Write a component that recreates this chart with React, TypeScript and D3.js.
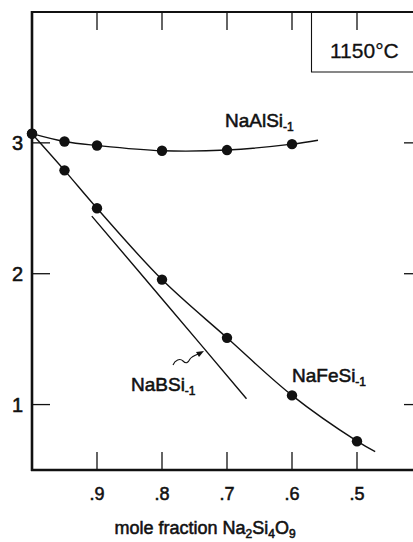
import React from 'react';
import * as d3 from 'd3';

// values (x = mole fraction Na2Si4O9)
const alX = [1.0, 0.95, 0.9, 0.8, 0.7, 0.6];
const alY = [3.07, 3.01, 2.98, 2.94, 2.945, 2.99];
const alCurveX = [1.0, 0.95, 0.9, 0.8, 0.7, 0.6, 0.56];
const alCurveY = [3.07, 3.01, 2.98, 2.94, 2.945, 2.99, 3.02];

const feX = [1.0, 0.95, 0.9, 0.8, 0.7, 0.6, 0.5];
const feY = [3.07, 2.79, 2.5, 1.955, 1.51, 1.07, 0.72];
const feCurveX = [1.0, 0.95, 0.9, 0.8, 0.7, 0.6, 0.5, 0.472];
const feCurveY = [3.07, 2.79, 2.5, 1.955, 1.51, 1.07, 0.72, 0.64];

const bCurveX = [0.908, 0.79, 0.67];
const bCurveY = [2.44, 1.75, 1.045];

const xTicks = [0.9, 0.8, 0.7, 0.6, 0.5];
const xTickLabels = ['.9', '.8', '.7', '.6', '.5'];
const yTicks = [1, 2, 3];

const W = 413;
const H = 542;
const font = '"Liberation Sans", Arial, Helvetica, sans-serif';

export default function App() {
  const x = d3.scaleLinear().domain([1.0, 0.4]).range([32, 422]);
  const y = d3.scaleLinear().domain([0.5, 4.0]).range([470, 12]);
  const [x0, x1] = x.range();
  const [yb, yt] = y.range();

  const line = d3
    .line<[number, number]>()
    .x((d) => x(d[0]))
    .y((d) => y(d[1]))
    .curve(d3.curveCatmullRom.alpha(0.5));

  const zip = (a: number[], b: number[]) => a.map((v, i) => [v, b[i]] as [number, number]);

  const tickLen = 18;
  const txt = { fontFamily: font, fill: '#111', stroke: '#111', strokeWidth: 0.55 };

  return (
    <svg width={W} height={H} style={{ position: 'absolute', left: 0, top: 0, background: '#fff' }}>
      {/* frame (right side lies beyond the picture edge) */}
      <line x1={x0} x2={x0} y1={yt - 1} y2={yb + 1} stroke="#111" strokeWidth={2.6} />
      <line x1={x0 - 1} x2={x1} y1={yb} y2={yb} stroke="#111" strokeWidth={2.6} />
      <line x1={x0 - 1} x2={x1} y1={yt} y2={yt} stroke="#111" strokeWidth={2} />

      {/* ticks */}
      {xTicks.map((t) => (
        <g key={'xt' + t}>
          <line x1={x(t)} x2={x(t)} y1={yb} y2={yb - tickLen} stroke="#111" strokeWidth={1.3} />
          <line x1={x(t)} x2={x(t)} y1={yt} y2={yt + tickLen} stroke="#111" strokeWidth={1.3} />
        </g>
      ))}
      {yTicks.map((t) => (
        <g key={'yt' + t}>
          <line x1={x0} x2={x0 + tickLen} y1={y(t)} y2={y(t)} stroke="#111" strokeWidth={1.3} />
          <line x1={x1} x2={x1 - tickLen} y1={y(t)} y2={y(t)} stroke="#111" strokeWidth={1.3} />
        </g>
      ))}

      {/* tick labels */}
      {xTicks.map((t, i) => (
        <text key={'xl' + t} x={x(t)} y={500} textAnchor="middle" fontSize={18} {...txt}>
          {xTickLabels[i]}
        </text>
      ))}
      {yTicks.map((t) => (
        <text key={'yl' + t} x={23} y={y(t) + 7} textAnchor="end" fontSize={20} {...txt}>
          {t}
        </text>
      ))}

      {/* axis title */}
      <text x={205} y={534} textAnchor="middle" fontSize={18} {...txt}>
        mole fraction Na
        <tspan fontSize={12} dy={4}>2</tspan>
        <tspan dy={-4}>Si</tspan>
        <tspan fontSize={12} dy={4}>4</tspan>
        <tspan dy={-4}>O</tspan>
        <tspan fontSize={12} dy={4}>9</tspan>
      </text>

      {/* temperature box */}
      <path d={`M${x(0.57)},${yt} V72 H${W + 5}`} fill="none" stroke="#111" strokeWidth={1.1} />
      <text x={330} y={58} fontSize={21} {...txt} strokeWidth={0.3}>
        1150°C
      </text>

      {/* curves */}
      <path d={line(zip(alCurveX, alCurveY)) || ''} fill="none" stroke="#111" strokeWidth={1.4} />
      <path d={line(zip(feCurveX, feCurveY)) || ''} fill="none" stroke="#111" strokeWidth={1.4} />
      <path d={line(zip(bCurveX, bCurveY)) || ''} fill="none" stroke="#111" strokeWidth={1.4} />

      {/* points */}
      {alX.map((v, i) => (
        <circle key={'al' + i} cx={x(v)} cy={y(alY[i])} r={5.2} fill="#111" />
      ))}
      {feX.map((v, i) => (
        <circle key={'fe' + i} cx={x(v)} cy={y(feY[i])} r={5.2} fill="#111" />
      ))}

      {/* labels */}
      <text x={225} y={127} fontSize={19} {...txt}>
        NaAlSi
        <tspan fontSize={12} dy={4}>-1</tspan>
      </text>
      <text x={292} y={382} fontSize={19} {...txt}>
        NaFeSi
        <tspan fontSize={12} dy={4}>-1</tspan>
      </text>
      <text x={131} y={391} fontSize={19} {...txt}>
        NaBSi
        <tspan fontSize={12} dy={4}>-1</tspan>
      </text>

      {/* squiggle arrow to NaBSi line */}
      <path
        d="M173,365 C175,360 180,358 183,361 C186,364 188,363 190,359 C192,356 196,355 201,353"
        fill="none"
        stroke="#111"
        strokeWidth={1.1}
      />
      <path d="M204,351 L196,352 L199,357 Z" fill="#111" />
    </svg>
  );
}
